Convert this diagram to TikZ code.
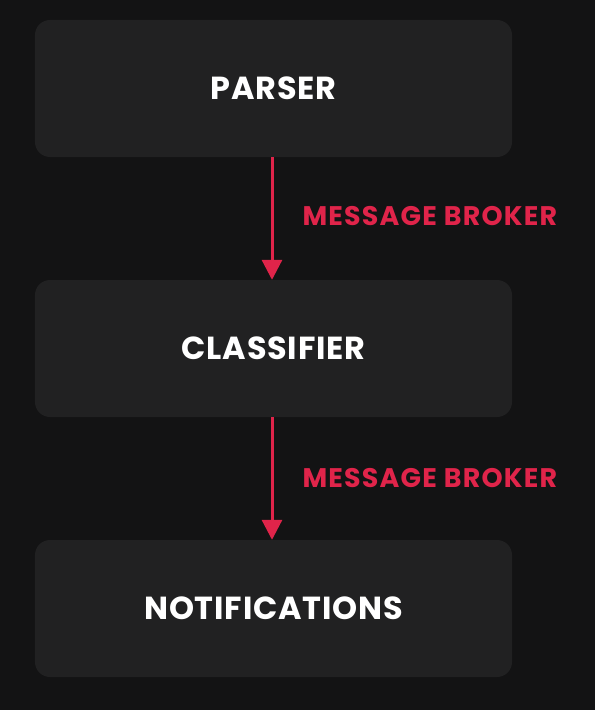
\documentclass[tikz,border=0pt]{standalone}
\usepackage{fontspec}
\setmainfont{Poppins}
\usetikzlibrary{positioning, arrows.meta}
\definecolor{bgdark}{HTML}{131314}
\definecolor{boxgray}{HTML}{212122}
\definecolor{brokerred}{HTML}{E0244A}

\begin{document}
\begin{tikzpicture}[x=1bp, y=-1bp,
		stage/.style={fill=boxgray, rounded corners=15bp, minimum width=477bp, minimum height=137bp, text=white, font=\bfseries\fontsize{32}{36}\selectfont\addfontfeature{LetterSpace=2.5}},
		flow/.style={draw=brokerred, line width=3bp, -{Triangle[length=20bp, width=20bp]}},
		broker/.style={text=brokerred, font=\bfseries\fontsize{27}{30}\selectfont\addfontfeature{LetterSpace=4.5}, anchor=west}]
		\fill[bgdark] (0, 0) rectangle (595, 710);
		\node[stage] (parser) at (273.5, 88.5) {PARSER};
		\node[stage] (classifier) at (273.5, 348.5) {CLASSIFIER};
		\node[stage] (notif) at (273.5, 608.5) {NOTIFICATIONS};
		\coordinate (axis) at (272, 0);
		\draw[flow] (parser.south -| axis) -- (classifier.north -| axis);
		\draw[flow] (classifier.south -| axis) -- (notif.north -| axis);
		\node[broker] (b1) at (299, 216) {MESSAGE BROKER};
		\node[broker] (b2) at (299, 478) {MESSAGE BROKER};
	\end{tikzpicture}
\end{document}
